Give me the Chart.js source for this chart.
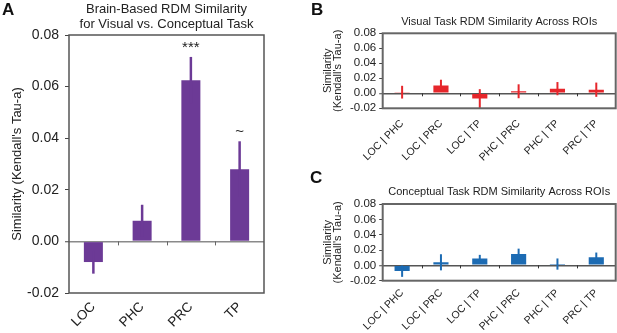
<!DOCTYPE html>
<html>
<head>
<meta charset="utf-8">
<script src="https://cdn.jsdelivr.net/npm/chart.js@4.4.0/dist/chart.umd.min.js"></script>
<style>
    body { margin: 0; background: #fff; }
    #wrap { position: relative; width: 617px; height: 333px; overflow: hidden; font-family: 'Liberation Sans', Arial, sans-serif; }
    #wrap canvas { position: absolute; }
    .panel-letter { position: absolute; font-weight: bold; font-size: 17px; line-height: 17px; color: #111; }
</style>
</head>
<body>
<div id="wrap">
    <canvas id="chartA" width="272" height="333" style="left:0;top:0"></canvas>
    <canvas id="chartB" width="299" height="165" style="left:318px;top:0"></canvas>
    <canvas id="chartC" width="299" height="168" style="left:318px;top:165px"></canvas>
    <div class="panel-letter" style="left:2px;top:1px">A</div>
    <div class="panel-letter" style="left:311px;top:1px">B</div>
    <div class="panel-letter" style="left:310px;top:169px">C</div>
</div>
<script>
const FONT = "'Liberation Sans', Arial, sans-serif";

// Panel A: visual vs conceptual task similarity per ROI
const roiLabels = ['LOC', 'PHC', 'PRC', 'TP'];
const taskSimilarity = [-0.008, 0.008, 0.0625, 0.028];
const taskSimilarityErr = [0.0045, 0.0062, 0.009, 0.0108];
const taskSignificance = ['', '', '***', '~'];

// Panels B and C: similarity between ROI pairs
const pairLabels = ['LOC | PHC', 'LOC | PRC', 'LOC | TP', 'PHC | PRC', 'PHC | TP', 'PRC | TP'];
const visualSimilarity = [0.0015, 0.0103, -0.007, 0.0027, 0.0062, 0.0048];
const visualSimilarityErr = [0.0085, 0.0078, 0.0125, 0.0093, 0.0088, 0.0095];
const conceptualSimilarity = [-0.0075, 0.004, 0.009, 0.0148, 0.0017, 0.0105];
const conceptualSimilarityErr = [0.0075, 0.0105, 0.0047, 0.007, 0.0073, 0.0062];

// Shared y tick values
const similarityTicks = [-0.02, 0.00, 0.02, 0.04, 0.06, 0.08];

Chart.defaults.font.family = FONT;
Chart.defaults.color = '#222';

// Error bars, small ticks on the zero line, frame and significance marks
function makeExtras(errors, marks, style) {
    return {
        id: 'panelExtras',
        afterDatasetsDraw(chart) {
            const ctx = chart.ctx;
            const area = chart.chartArea;
            const x = chart.scales.x;
            const y = chart.scales.y;
            const values = chart.data.datasets[0].data;
            ctx.save();

            // error bars
            ctx.strokeStyle = style.color;
            ctx.lineWidth = style.errWidth;
            values.forEach((v, i) => {
                const px = x.getPixelForValue(i);
                ctx.beginPath();
                ctx.moveTo(px, y.getPixelForValue(v - errors[i]));
                ctx.lineTo(px, y.getPixelForValue(v + errors[i]));
                ctx.stroke();
            });

            // ticks between categories on the zero line
            const y0 = y.getPixelForValue(0);
            ctx.strokeStyle = style.tickColor;
            ctx.lineWidth = 1;
            for (let i = 1; i < values.length; i++) {
                const px = Math.round((x.getPixelForValue(i - 1) + x.getPixelForValue(i)) / 2) + 0.5;
                ctx.beginPath();
                ctx.moveTo(px, y0);
                ctx.lineTo(px, y0 + style.tickLength);
                ctx.stroke();
            }

            // significance marks
            if (marks) {
                ctx.fillStyle = '#222';
                ctx.font = style.markFont;
                ctx.textAlign = 'center';
                ctx.textBaseline = 'alphabetic';
                values.forEach((v, i) => {
                    if (!marks[i]) return;
                    ctx.fillText(marks[i], x.getPixelForValue(i), y.getPixelForValue(v + errors[i]) - 5);
                });
            }

            // frame
            ctx.strokeStyle = style.frameColor;
            ctx.lineWidth = style.frameWidth;
            ctx.strokeRect(area.left, area.top, area.right - area.left, area.bottom - area.top);
            ctx.restore();
        }
    };
}

// Build one bar panel
function makePanel(canvasId, cfg) {
    return new Chart(document.getElementById(canvasId), {
        type: 'bar',
        data: {
            labels: cfg.labels,
            datasets: [{
                data: cfg.values,
                backgroundColor: cfg.color,
                borderWidth: 0,
                barPercentage: 0.39,
                categoryPercentage: 1
            }]
        },
        options: {
            responsive: false,
            animation: false,
            layout: { padding: { left: 0, right: cfg.padRight, top: 0, bottom: 0 } },
            plugins: {
                legend: { display: false },
                tooltip: { enabled: false },
                title: {
                    display: true,
                    text: cfg.title,
                    fullSize: false,
                    color: '#222',
                    font: { size: cfg.titleSize, weight: 'normal', lineHeight: cfg.titleLineHeight },
                    padding: cfg.titlePad
                }
            },
            scales: {
                x: {
                    offset: true,
                    grid: { display: false, drawTicks: false },
                    border: { display: false },
                    afterFit: s => { s.height = cfg.xHeight; },
                    ticks: {
                        autoSkip: false,
                        minRotation: 45,
                        maxRotation: 45,
                        padding: cfg.xPad,
                        color: '#222',
                        font: { size: cfg.xFontSize }
                    }
                },
                y: {
                    min: similarityTicks[0],
                    max: similarityTicks[similarityTicks.length - 1],
                    afterBuildTicks: s => { s.ticks = similarityTicks.map(v => ({ value: v })); },
                    afterFit: s => { s.width = cfg.yWidth; },
                    border: { display: false },
                    grid: {
                        color: c => (c.tick && Math.abs(c.tick.value) < 1e-9) ? cfg.zeroColor : 'rgba(0,0,0,0)',
                        lineWidth: c => (c.tick && Math.abs(c.tick.value) < 1e-9) ? cfg.zeroWidth : 1,
                        tickColor: '#444',
                        tickWidth: 1,
                        tickLength: cfg.yTickLength
                    },
                    ticks: {
                        autoSkip: false,
                        padding: cfg.yPad,
                        color: '#222',
                        font: { size: cfg.yFontSize },
                        callback: v => v.toFixed(2)
                    },
                    title: {
                        display: true,
                        text: cfg.yTitle,
                        color: '#222',
                        font: { size: cfg.yTitleSize, lineHeight: cfg.yTitleLineHeight },
                        padding: { top: cfg.yTitlePad, bottom: 0 }
                    }
                }
            }
        },
        plugins: [makeExtras(cfg.errors, cfg.marks, cfg.extras)]
    });
}

makePanel('chartA', {
    labels: roiLabels,
    values: taskSimilarity,
    errors: taskSimilarityErr,
    marks: taskSignificance,
    color: '#6C3A96',
    title: ['Brain-Based RDM Similarity', 'for Visual vs. Conceptual Task'],
    titleSize: 13,
    titleLineHeight: 15 / 13,
    titlePad: { top: 1.5, bottom: 3.5 },
    padRight: 8,
    xHeight: 40,
    xPad: 6,
    xFontSize: 13.5,
    yWidth: 69,
    yPad: 6,
    yFontSize: 14,
    yTickLength: 4,
    yTitle: "Similarity (Kendall's Tau-a)",
    yTitleSize: 13,
    yTitleLineHeight: 1.2,
    yTitlePad: 10,
    zeroColor: '#8a8a8a',
    zeroWidth: 1.5,
    extras: { color: '#6C3A96', errWidth: 2.5, tickColor: '#666', tickLength: 4, frameColor: '#555', frameWidth: 1.5, markFont: '15px ' + FONT }
});

makePanel('chartB', {
    labels: pairLabels,
    values: visualSimilarity,
    errors: visualSimilarityErr,
    marks: null,
    color: '#E6262B',
    title: 'Visual Task RDM Similarity Across ROIs',
    titleSize: 11,
    titleLineHeight: 1.2,
    titlePad: { top: 15.1, bottom: 5 },
    padRight: 1.3,
    xHeight: 56.7,
    xPad: 9,
    xFontSize: 10.5,
    yWidth: 64.7,
    yPad: 3,
    yFontSize: 11.5,
    yTickLength: 3.5,
    yTitle: ['Similarity', "(Kendall's Tau-a)"],
    yTitleSize: 11,
    yTitleLineHeight: 10 / 11,
    yTitlePad: 5.3,
    zeroColor: '#555',
    zeroWidth: 1.5,
    extras: { color: '#E6262B', errWidth: 2, tickColor: '#333', tickLength: 3, frameColor: '#666', frameWidth: 2 }
});

makePanel('chartC', {
    labels: pairLabels,
    values: conceptualSimilarity,
    errors: conceptualSimilarityErr,
    marks: null,
    color: '#1C6BB3',
    title: 'Conceptual Task RDM Similarity Across ROIs',
    titleSize: 11,
    titleLineHeight: 1.2,
    titlePad: { top: 20.1, bottom: 5.7 },
    padRight: 1.3,
    xHeight: 52.3,
    xPad: 6,
    xFontSize: 10.5,
    yWidth: 64.7,
    yPad: 3,
    yFontSize: 11.5,
    yTickLength: 3.5,
    yTitle: ['Similarity', "(Kendall's Tau-a)"],
    yTitleSize: 11,
    yTitleLineHeight: 10 / 11,
    yTitlePad: 5.3,
    zeroColor: '#555',
    zeroWidth: 1.5,
    extras: { color: '#1C6BB3', errWidth: 2, tickColor: '#333', tickLength: 3, frameColor: '#666', frameWidth: 2 }
});
</script>
</body>
</html>
